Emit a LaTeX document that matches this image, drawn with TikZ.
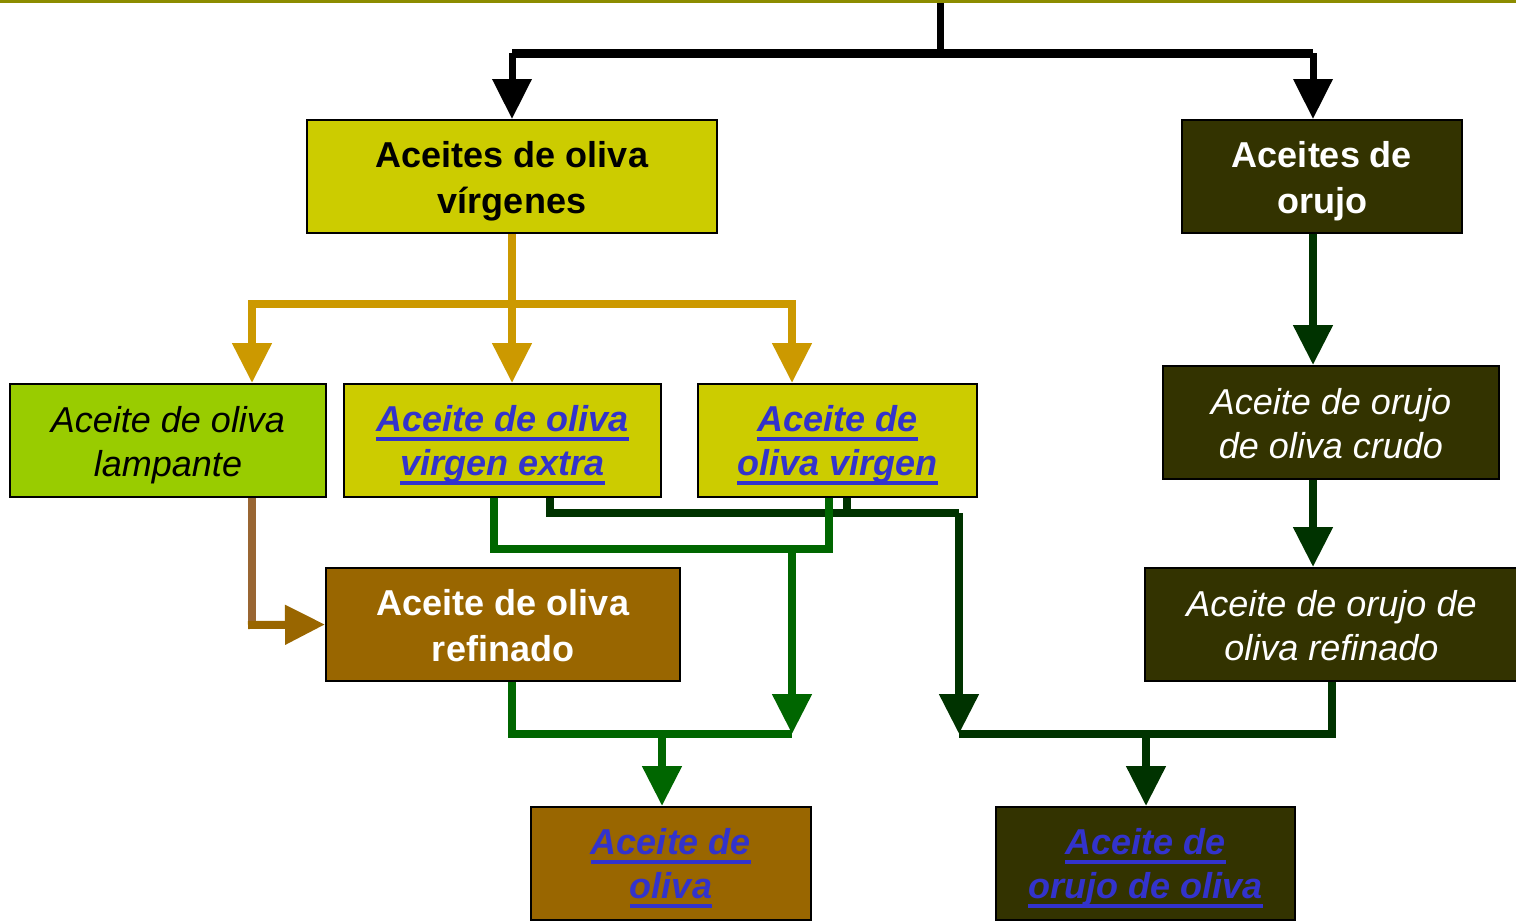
\documentclass[tikz,border=0pt]{standalone}
\usepackage{fontspec}
\setmainfont{Liberation Sans}
\usetikzlibrary{arrows.meta}
\definecolor{topolive}{HTML}{8C8C00}
\definecolor{yel}{HTML}{CCCC00}
\definecolor{lime}{HTML}{99CC00}
\definecolor{darkol}{HTML}{333300}
\definecolor{brn}{HTML}{996600}
\definecolor{brnline}{HTML}{996633}
\definecolor{orng}{HTML}{CC9900}
\definecolor{grn}{HTML}{006600}
\definecolor{dgrn}{HTML}{003300}
\definecolor{lnkblue}{HTML}{3333CC}
\newsavebox{\lkbox}
\newcommand{\lk}[1]{\sbox{\lkbox}{#1}\rlap{\rule[-9pt]{\wd\lkbox}{4pt}}\usebox{\lkbox}}
\newcommand{\sth}{\rule{0pt}{35pt}}
\newcommand{\std}{\rule[-7pt]{0pt}{7pt}}
\begin{document}
\begin{tikzpicture}[x=1pt,y=-1pt,
  box/.style={draw=black, line width=2pt, inner sep=0pt, align=center,
    font=\fontsize{36}{45}\selectfont},
  bld/.style={font=\fontsize{36}{46}\selectfont\bfseries},
  itl/.style={font=\fontsize{36}{44}\selectfont\itshape},
  lnk/.style={text=lnkblue, font=\fontsize{36}{44}\selectfont\bfseries\itshape},
  arr/.style={-{Triangle[length=40pt,width=38pt]}},
  conn/.style={line width=8pt, line join=miter}
]
\useasboundingbox (0,0) rectangle (1516,922);
\fill[topolive] (0,0) rectangle (1516,3);

% nodes
\node[box, bld, fill=yel, minimum width=410pt, minimum height=113pt] (vir) at (512,176.5) {\sth Aceites de oliva\\v\'irgenes\std};
\node[box, bld, fill=darkol, text=white, minimum width=280pt, minimum height=113pt] (oru) at (1322,176.5) {\sth Aceites de\\orujo\std};
\node[box, itl, fill=lime, minimum width=316pt, minimum height=113pt] (lam) at (168,440.5) {\sth Aceite de oliva\\lampante\std};
\node[box, lnk, fill=yel, minimum width=317pt, minimum height=113pt] (vex) at (502.5,440.5) {\sth\lk{Aceite de oliva}\\\lk{virgen extra}\std};
\node[box, lnk, fill=yel, minimum width=279pt, minimum height=113pt] (vrg) at (837.5,440.5) {\sth\lk{Aceite de}\\\lk{oliva virgen}\std};
\node[box, itl, fill=darkol, text=white, minimum width=336pt, minimum height=113pt] (cru) at (1331,422.5) {\sth Aceite de orujo\\de oliva crudo\std};
\node[box, itl, fill=darkol, text=white, minimum width=373pt, minimum height=113pt] (orf) at (1331.5,624.5) {\sth Aceite de orujo de\\oliva refinado\std};
\node[box, bld, fill=brn, text=white, minimum width=354pt, minimum height=113pt] (ref) at (503,624.5) {\sth Aceite de oliva\\refinado\std};
\node[box, lnk, fill=brn, minimum width=280pt, minimum height=113pt] (ace) at (671,863.5) {\sth\lk{Aceite de}\\\lk{oliva}\std};
\node[box, lnk, fill=darkol, minimum width=299pt, minimum height=113pt] (aco) at (1145.5,863.5) {\sth\lk{Aceite de}\\\lk{orujo de oliva}\std};

% coordinates
\coordinate (t0) at (940,3);
\coordinate (t1) at (940,53);
\coordinate (tl) at (512,53);
\coordinate (tr) at (1313,53);
\coordinate (o1) at (512,304);
\coordinate (ol) at (252,304);
\coordinate (or) at (792,304);
\coordinate (b1) at (252,625);
\coordinate (g1) at (494,549);
\coordinate (g2) at (829,549);
\coordinate (g3) at (792,549);
\coordinate (g4) at (792,734);
\coordinate (g5) at (512,734);
\coordinate (g6) at (662,734);
\coordinate (d1) at (550,513);
\coordinate (d2) at (959,513);
\coordinate (d3) at (847,513);
\coordinate (d4) at (959,734);
\coordinate (d5) at (1332,734);
\coordinate (d6) at (1146,734);

% black
\draw[black, line width=7pt] (t0) -- (t1);
\draw[black, line width=9pt] (tl) -- (tr);
\draw[black, line width=7pt, arr] (tl) -- (vir.north);
\draw[black, line width=7pt, arr] (tr) -- (tr |- oru.north);

% orange
\draw[orng, conn, arr] (vir.south) -- (o1 |- vex.north);
\draw[orng, conn, arr] (o1) -| (ol |- lam.north);
\draw[orng, conn, arr] (o1) -| (or |- vrg.north);

% right column
\draw[dgrn, conn, arr] (tr |- oru.south) -- (tr |- cru.north);
\draw[dgrn, conn, arr] (tr |- cru.south) -- (tr |- orf.north);

% brown
\draw[brnline, conn] (ol |- lam.south) -- (b1);
\draw[brn, conn, arr] ([xshift=-4pt]b1) -- (ref.west);

% dark green
\draw[dgrn, conn] (d1 |- vex.south) -- (d1) -- (d2);
\draw[dgrn, conn] (d3 |- vrg.south) -- (d3);
\draw[dgrn, conn, arr] (d2) -- (d4);
\draw[dgrn, conn] (d4) -- (d5) -- (d5 |- orf.south);
\draw[dgrn, conn, arr] (d6) -- (d6 |- aco.north);

% green
\draw[grn, conn] (g1 |- vex.south) -- (g1) -- (g2) -- (g2 |- vrg.south);
\draw[grn, conn, arr] (g3) -- (g4);
\draw[grn, conn] (g5 |- ref.south) -- (g5) -- (g4);
\draw[grn, conn, arr] (g6) -- (g6 |- ace.north);
\end{tikzpicture}
\end{document}
